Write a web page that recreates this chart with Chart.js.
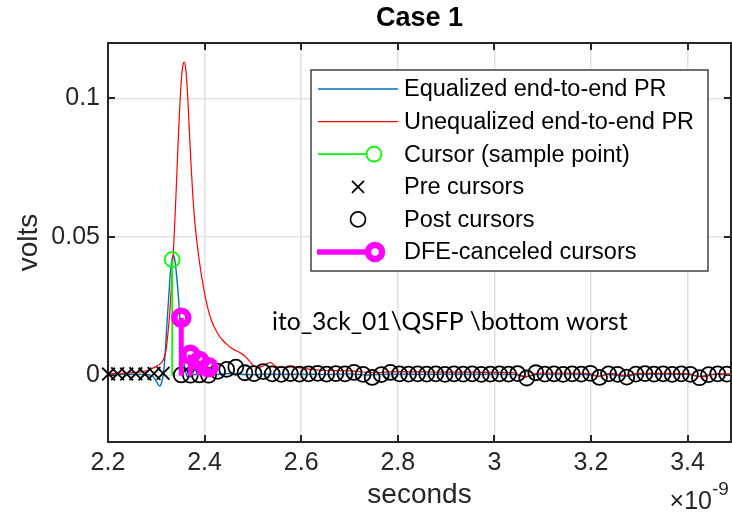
<!DOCTYPE html>
<html>
<head>
<meta charset="utf-8">
<title>Case 1</title>
<script src="https://cdn.jsdelivr.net/npm/chart.js@4.4.0/dist/chart.umd.min.js"></script>
<style>
  body { margin: 0; background: #fff; }
  #chart { display: block; }
</style>
</head>
<body>
<canvas id="chart" width="732" height="512"></canvas>
<script>
// time axis is in ns (axis carries the x10^-9 multiplier), amplitudes in volts

// equalized end-to-end pulse response
var eqTime = [2.20, 2.22, 2.24, 2.26, 2.28, 2.29, 2.297, 2.303, 2.307, 2.311, 2.315, 2.318, 2.322, 2.326,
  2.329, 2.332, 2.336, 2.339, 2.3417, 2.3465, 2.350, 2.355, 2.360, 2.366, 2.371, 2.378, 2.39, 2.41,
  2.43, 2.45, 2.47, 2.50, 2.53, 2.56, 2.60, 2.65, 2.70, 2.74, 2.76, 2.80, 2.85, 2.90, 2.95, 3.00,
  3.04, 3.065, 3.09, 3.15, 3.20, 3.215, 3.235, 3.27, 3.30, 3.35, 3.40, 3.425, 3.45, 3.49];
var eqVolts = [0.0004, 0.0005, 0.0004, 0.0005, 0.0003, 0.0000, -0.0012, -0.0030, -0.0038, -0.0026, 0.0010, 0.0070, 0.0187, 0.0290,
  0.0367, 0.0415, 0.0433, 0.0410, 0.0367, 0.0270, 0.0174, 0.0080, 0.0018, -0.0006, -0.0004, 0.0003, 0.0006, 0.0008,
  0.0004, 0.0007, 0.0005, 0.0003, 0.0005, 0.0004, 0.0005, 0.0004, 0.0006, 0.0002, 0.0004, 0.0005, 0.0004, 0.0005, 0.0004, 0.0005,
  0.0004, -0.0004, 0.0004, 0.0005, 0.0002, -0.0003, 0.0004, -0.0002, 0.0004, 0.0005, 0.0004, -0.0003, 0.0004, 0.0004];

// unequalized end-to-end pulse response
var uneqTime = [2.20, 2.23, 2.26, 2.28, 2.29, 2.30, 2.308, 2.315, 2.320, 2.324, 2.328, 2.332, 2.336, 2.340,
  2.344, 2.348, 2.352, 2.355, 2.358, 2.361, 2.364, 2.368, 2.372, 2.376, 2.380, 2.385, 2.391, 2.398,
  2.4056, 2.415, 2.425, 2.435, 2.445, 2.4527, 2.462, 2.472, 2.482, 2.492, 2.500, 2.508, 2.518, 2.528,
  2.537, 2.546, 2.56, 2.58, 2.60, 2.62, 2.65, 2.70, 2.75, 2.80, 2.85, 2.90, 2.95, 3.00, 3.04, 3.065,
  3.09, 3.15, 3.20, 3.215, 3.24, 3.27, 3.30, 3.35, 3.40, 3.43, 3.46, 3.49];
var uneqVolts = [0.0006, 0.0008, 0.0011, 0.0017, 0.0024, 0.0033, 0.0042, 0.0058, 0.0090, 0.0150, 0.0230, 0.0340, 0.0470, 0.0620,
  0.0790, 0.0950, 0.1070, 0.1118, 0.1131, 0.1105, 0.1040, 0.0900, 0.0760, 0.0640, 0.0550, 0.0470, 0.0390, 0.0315,
  0.0250, 0.0195, 0.0158, 0.0132, 0.0114, 0.0102, 0.0092, 0.0084, 0.0072, 0.0054, 0.0038, 0.0030, 0.0032, 0.0042,
  0.0047, 0.0034, 0.0029, 0.0031, 0.0027, 0.0022, 0.0018, 0.0017, 0.0010, 0.0014, 0.0013, 0.0012, 0.0012, 0.0011, 0.0010, -0.0006,
  0.0009, 0.0009, 0.0006, -0.0004, 0.0008, 0.0000, 0.0008, 0.0008, 0.0007, -0.0005, 0.0006, 0.0006];

// sampling: cursor and one symbol period (53.125 GBd)
var cursorTime = 2.3329;
var cursorVolts = 0.0418;
var symbolPeriod = 0.018824;

// pre cursors, earliest first
var preVolts = [0.0005, 0.0006, 0.0005, 0.0006, 0.0005, 0.0007, 0.0008];
// post cursors, first one after the cursor first
var postVolts = [0.0002, 0.0001, 0.0002, 0.0001, 0.0015, 0.0022, 0.0030, 0.0010, 0.0007, 0.0014,
  0.0006, 0.0004, 0.0007, 0.0005, 0.0006, 0.0008, 0.0005, 0.0007, 0.0006, 0.0011,
  0.0004, -0.0007, 0.0003, 0.0011, 0.0006, 0.0005, 0.0006, 0.0005, 0.0006, 0.0004,
  0.0006, 0.0005, 0.0006, 0.0004, 0.0005, 0.0006, 0.0005, 0.0007, -0.0009, 0.0010,
  0.0005, 0.0006, 0.0004, 0.0006, 0.0005, 0.0008, -0.0007, 0.0006, 0.0004, -0.0006,
  0.0005, 0.0007, 0.0005, 0.0006, 0.0004, 0.0006, 0.0004, -0.0008, 0.0003, 0.0006, 0.0005];
// cursors taken out by the DFE (first post cursors)
var dfeVolts = [0.0208, 0.0075, 0.0052, 0.0030];

var xTicks = [2.2, 2.4, 2.6, 2.8, 3, 3.2, 3.4];
var yTicks = [0, 0.05, 0.1];

var legendLabels = ['Equalized end-to-end PR', 'Unequalized end-to-end PR', 'Cursor (sample point)',
  'Pre cursors', 'Post cursors', 'DFE-canceled cursors'];
var noteText = 'ito_3ck_01\\QSFP \\bottom worst';

var axisColor = '#262626';
var blue = '#0072BD';
var red = '#FF0000';
var green = '#00FF00';
var magenta = '#FF00FF';
var fontFamily = '"Liberation Sans", Arial, sans-serif';

function pairs(xs, ys) {
  return xs.map(function (x, i) { return {x: x, y: ys[i]}; });
}

var preData = preVolts.map(function (v, i) {
  return {x: cursorTime - (preVolts.length - i) * symbolPeriod, y: v};
});
var postData = postVolts.map(function (v, i) {
  return {x: cursorTime + (i + 1) * symbolPeriod, y: v};
});
var dfeData = dfeVolts.map(function (v, i) {
  return {x: cursorTime + (i + 1) * symbolPeriod, y: v};
});

// stem lines: base to tip, then a gap
function stems(points) {
  var out = [];
  points.forEach(function (p) {
    out.push({x: p.x, y: 0});
    out.push({x: p.x, y: p.y});
    out.push({x: p.x, y: null});
  });
  return out;
}

var cursorData = [{x: cursorTime, y: cursorVolts}];

// box, inner ticks, title, note, legend and exponent label
var decorations = {
  id: 'decorations',
  beforeDatasetsDraw: function (chart) {
    var ctx = chart.ctx, a = chart.chartArea;
    var sx = chart.scales.x, sy = chart.scales.y;
    ctx.save();
    ctx.strokeStyle = axisColor;
    ctx.lineWidth = 2;
    ctx.strokeRect(a.left, a.top, a.right - a.left, a.bottom - a.top);
    ctx.beginPath();
    xTicks.forEach(function (v) {
      var px = Math.round(sx.getPixelForValue(v));
      ctx.moveTo(px, a.bottom); ctx.lineTo(px, a.bottom - 7);
      ctx.moveTo(px, a.top); ctx.lineTo(px, a.top + 7);
    });
    yTicks.forEach(function (v) {
      var py = Math.round(sy.getPixelForValue(v));
      ctx.moveTo(a.left, py); ctx.lineTo(a.left + 7, py);
      ctx.moveTo(a.right, py); ctx.lineTo(a.right - 7, py);
    });
    ctx.stroke();
    ctx.restore();
  },
  afterDatasetsDraw: function (chart) {
    var ctx = chart.ctx;
    ctx.save();

    // text note inside the axes
    ctx.fillStyle = '#000';
    ctx.font = '24.7px Lato, "Open Sans", sans-serif';
    ctx.textBaseline = 'middle';
    ctx.textAlign = 'left';
    ctx.fillText(noteText, 272, 322);

    // legend
    var lx = 311, ly = 70, lw = 397, lh = 201;
    ctx.fillStyle = '#fff';
    ctx.fillRect(lx, ly, lw, lh);
    ctx.strokeStyle = axisColor;
    ctx.lineWidth = 1.3;
    ctx.strokeRect(lx, ly, lw, lh);

    var rowY = function (i) { return 89 + i * 32.6; };

    ctx.lineWidth = 1.3;
    ctx.strokeStyle = blue;
    ctx.beginPath(); ctx.moveTo(318, rowY(0)); ctx.lineTo(398, rowY(0)); ctx.stroke();
    ctx.strokeStyle = red;
    ctx.beginPath(); ctx.moveTo(318, rowY(1)); ctx.lineTo(398, rowY(1)); ctx.stroke();

    ctx.strokeStyle = green;
    ctx.lineWidth = 1.8;
    ctx.beginPath(); ctx.moveTo(318, rowY(2)); ctx.lineTo(366, rowY(2)); ctx.stroke();
    ctx.beginPath(); ctx.arc(374, rowY(2), 7.5, 0, Math.PI * 2); ctx.stroke();

    ctx.strokeStyle = '#000';
    ctx.lineWidth = 1.7;
    ctx.beginPath();
    ctx.moveTo(352, rowY(3) - 6); ctx.lineTo(364, rowY(3) + 6);
    ctx.moveTo(352, rowY(3) + 6); ctx.lineTo(364, rowY(3) - 6);
    ctx.stroke();
    ctx.beginPath(); ctx.arc(358, rowY(4), 7.5, 0, Math.PI * 2); ctx.stroke();

    ctx.strokeStyle = magenta;
    ctx.lineWidth = 5.5;
    ctx.beginPath(); ctx.moveTo(317, rowY(5)); ctx.lineTo(370, rowY(5)); ctx.stroke();
    ctx.lineWidth = 6.5;
    ctx.beginPath(); ctx.arc(375, rowY(5), 7, 0, Math.PI * 2); ctx.stroke();

    ctx.fillStyle = '#000';
    ctx.font = '23.5px ' + fontFamily;
    ctx.textAlign = 'left';
    ctx.textBaseline = 'middle';
    legendLabels.forEach(function (t, i) { ctx.fillText(t, 404, rowY(i) + 1); });

    ctx.restore();
  },
  afterDraw: function (chart) {
    var ctx = chart.ctx, a = chart.chartArea;
    ctx.save();
    ctx.fillStyle = '#000';
    ctx.font = 'bold 27px ' + fontFamily;
    ctx.textAlign = 'center';
    ctx.textBaseline = 'middle';
    ctx.fillText('Case 1', (a.left + a.right) / 2, 19);

    ctx.fillStyle = axisColor;
    ctx.textBaseline = 'alphabetic';
    ctx.textAlign = 'right';
    ctx.font = '25px ' + fontFamily;
    ctx.fillText('\u00d710', 712, 509);
    ctx.textAlign = 'left';
    ctx.font = '19px ' + fontFamily;
    ctx.fillText('-9', 712, 495);
    ctx.restore();
  }
};

var chart = new Chart(document.getElementById('chart'), {
  type: 'line',
  data: {
    datasets: [
      {
        label: legendLabels[0],
        data: pairs(eqTime, eqVolts),
        borderColor: blue,
        borderWidth: 1.4,
        pointRadius: 0,
        cubicInterpolationMode: 'monotone',
        order: 7
      },
      {
        label: legendLabels[1],
        data: pairs(uneqTime, uneqVolts),
        borderColor: red,
        borderWidth: 1.2,
        pointRadius: 0,
        cubicInterpolationMode: 'monotone',
        order: 6
      },
      {
        label: 'cursor stem',
        data: stems(cursorData),
        borderColor: green,
        borderWidth: 1.8,
        pointRadius: 0,
        spanGaps: false,
        order: 5
      },
      {
        label: legendLabels[2],
        data: cursorData,
        showLine: false,
        pointStyle: 'circle',
        pointRadius: 7.5,
        pointBorderWidth: 1.8,
        pointBorderColor: green,
        pointBackgroundColor: 'rgba(0,0,0,0)',
        order: 4
      },
      {
        label: legendLabels[3],
        data: preData,
        showLine: false,
        pointStyle: 'crossRot',
        pointRadius: 9,
        pointBorderWidth: 1.8,
        pointBorderColor: '#000',
        clip: false,
        order: 3
      },
      {
        label: legendLabels[4],
        data: postData,
        showLine: false,
        pointStyle: 'circle',
        pointRadius: 7.5,
        pointBorderWidth: 1.8,
        pointBorderColor: '#000',
        pointBackgroundColor: 'rgba(0,0,0,0)',
        order: 2
      },
      {
        label: 'dfe stems',
        data: stems(dfeData),
        borderColor: magenta,
        borderWidth: 5,
        pointRadius: 0,
        spanGaps: false,
        order: 1
      },
      {
        label: legendLabels[5],
        data: dfeData,
        showLine: false,
        pointStyle: 'circle',
        pointRadius: 7,
        pointBorderWidth: 6.5,
        pointBorderColor: magenta,
        pointBackgroundColor: 'rgba(0,0,0,0)',
        order: 0
      }
    ]
  },
  options: {
    responsive: false,
    animation: false,
    events: [],
    layout: {
      autoPadding: false,
      padding: { top: 43, right: 1, left: 0, bottom: 0 }
    },
    plugins: {
      legend: { display: false },
      tooltip: { enabled: false },
      title: { display: false }
    },
    scales: {
      x: {
        type: 'linear',
        min: 2.2,
        max: 3.49,
        afterBuildTicks: function (axis) {
          axis.ticks = xTicks.map(function (v) { return {value: v}; });
        },
        afterFit: function (axis) {
          axis.height = 70;
          axis.paddingLeft = 0;
          axis.paddingRight = 0;
        },
        border: { display: false },
        grid: { color: '#e2e2e2', lineWidth: 1.5, drawTicks: false },
        ticks: {
          padding: 6,
          color: axisColor,
          font: { family: fontFamily, size: 25 },
          maxRotation: 0,
          callback: function (v) { return String(v); }
        },
        title: {
          display: true,
          text: 'seconds',
          color: axisColor,
          font: { family: fontFamily, size: 28 },
          padding: { top: 0, bottom: 0 }
        }
      },
      y: {
        type: 'linear',
        min: -0.024,
        max: 0.12,
        afterBuildTicks: function (axis) {
          axis.ticks = yTicks.map(function (v) { return {value: v}; });
        },
        afterFit: function (axis) {
          axis.width = 108;
          axis.paddingTop = 0;
          axis.paddingBottom = 0;
        },
        border: { display: false },
        grid: { color: '#e2e2e2', lineWidth: 1.5, drawTicks: false },
        ticks: {
          padding: 8,
          color: axisColor,
          font: { family: fontFamily, size: 25 },
          callback: function (v) { return String(v); }
        },
        title: {
          display: true,
          text: 'volts',
          color: axisColor,
          font: { family: fontFamily, size: 28 },
          padding: { top: 12, bottom: 0 }
        }
      }
    }
  },
  plugins: [decorations]
});
</script>
</body>
</html>
